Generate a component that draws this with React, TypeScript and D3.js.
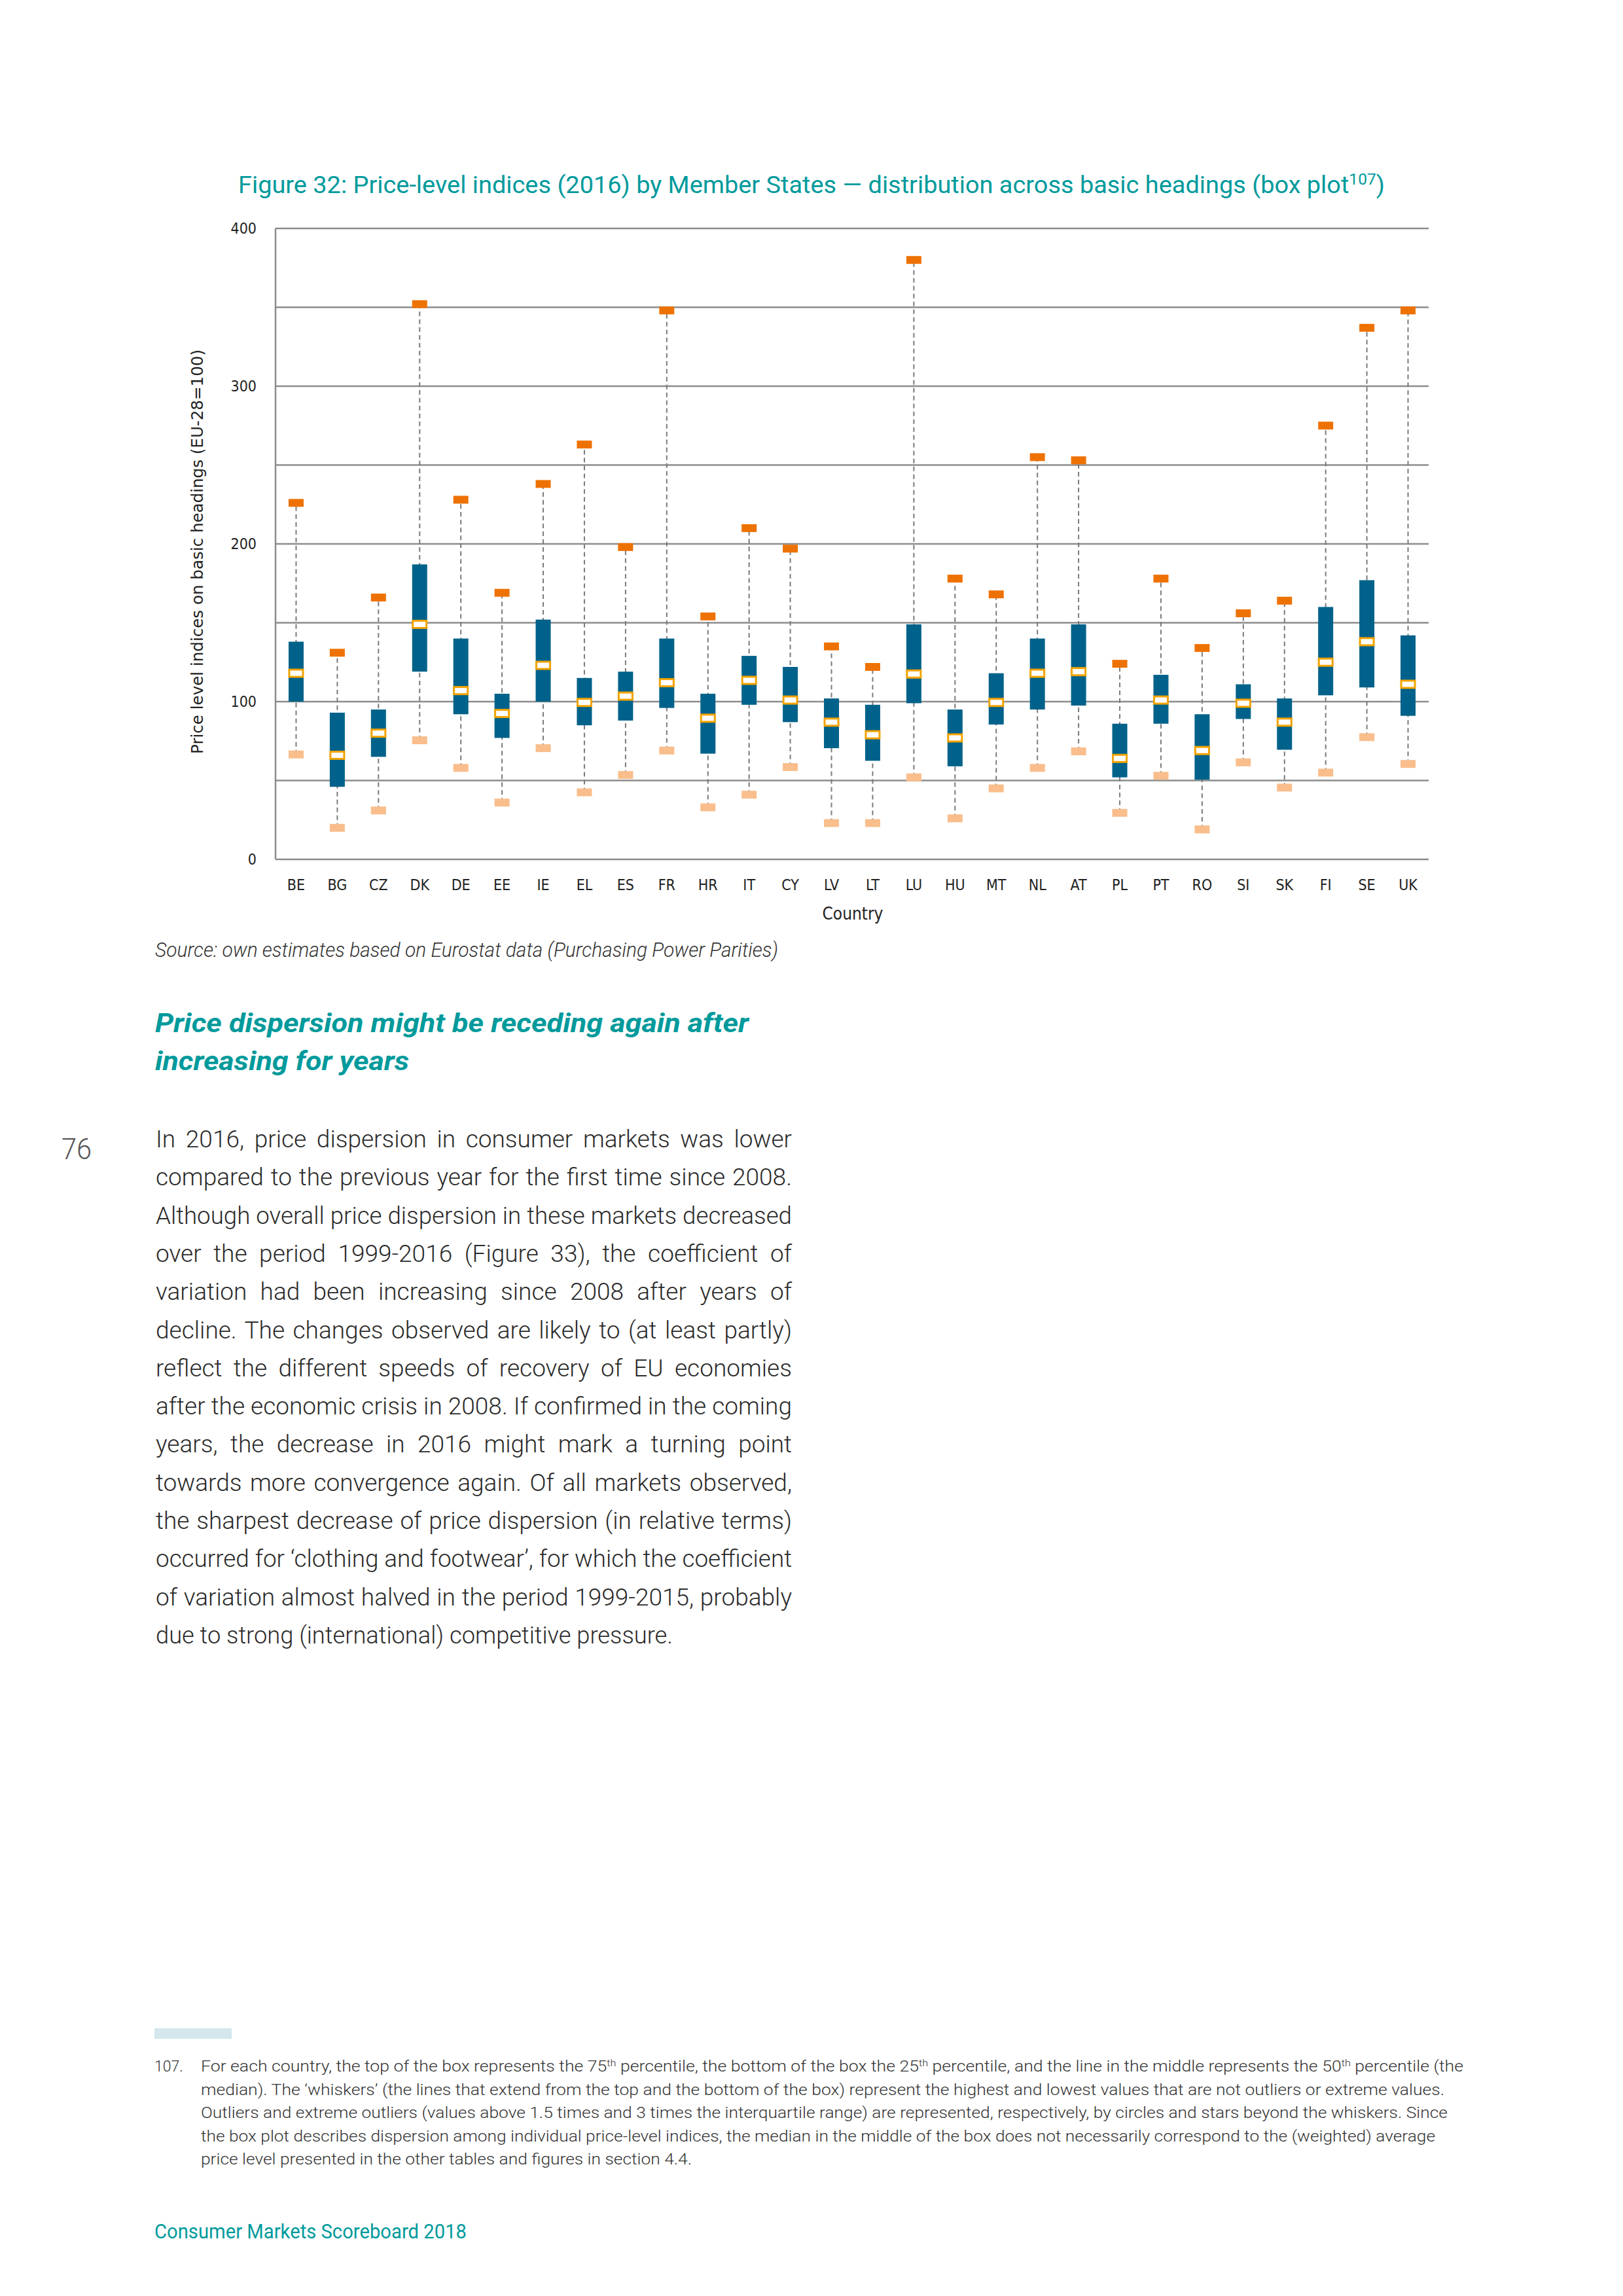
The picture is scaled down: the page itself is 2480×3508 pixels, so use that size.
import * as d3 from "d3";
import { useLayoutEffect, useRef } from "react";

// values (price level index, EU-28 = 100)
const countries = ["BE", "BG", "CZ", "DK", "DE", "EE", "IE", "EL", "ES", "FR", "HR", "IT", "CY", "LV", "LT", "LU", "HU", "MT", "NL", "AT", "PL", "PT", "RO", "SI", "SK", "FI", "SE", "UK"];
const maxValues = [226, 131, 166, 352, 228, 169, 238, 263, 198, 348, 154, 210, 197, 135, 122, 380, 178, 168, 255, 253, 124, 178, 134, 156, 164, 275, 337, 348];
const q3Values = [138, 93, 95, 187, 140, 105, 152, 115, 119, 140, 105, 129, 122, 102, 98, 149, 95, 118, 140, 149, 86, 117, 92, 111, 102, 160, 177, 142];
const medianValues = [118, 66, 80, 149, 107, 92.5, 123, 99.5, 103.5, 112, 89.5, 113.5, 101, 87, 79, 117.5, 77, 99.5, 118, 119, 64, 101, 69, 99, 87, 125, 138, 111];
const q1Values = [100, 46, 65, 119, 92, 77, 100, 85, 88, 96, 67, 98, 87, 70.5, 62.5, 99, 59, 85.5, 95, 97.5, 52, 86, 50.5, 89, 69.5, 104, 109, 91];
const minValues = [66.5, 20, 31, 75.5, 58, 36, 70.5, 42.5, 53.5, 69, 33, 41, 58.5, 23, 23, 52, 26, 45, 58, 68.5, 29.5, 53, 19, 61.5, 45.5, 55, 77.5, 60.5];
const yTicks = [0, 100, 200, 300, 400];
const gridValues = [0, 50, 100, 150, 200, 250, 300, 350, 400];

const paragraph = [
  "In 2016, price dispersion in consumer markets was lower",
  "compared to the previous year for the first time since 2008.",
  "Although overall price dispersion in these markets decreased",
  "over the period 1999-2016 (Figure 33), the coefficient of",
  "variation had been increasing since 2008 after years of",
  "decline. The changes observed are likely to (at least partly)",
  "reflect the different speeds of recovery of EU economies",
  "after the economic crisis in 2008. If confirmed in the coming",
  "years, the decrease in 2016 might mark a turning point",
  "towards more convergence again. Of all markets observed,",
  "the sharpest decrease of price dispersion (in relative terms)",
  "occurred for \u2018clothing and footwear\u2019, for which the coefficient",
  "of variation almost halved in the period 1999-2015, probably",
  "due to strong (international) competitive pressure.",
];

const footnoteLines = [
  "median). The \u2018whiskers\u2019 (the lines that extend from the top and the bottom of the box) represent the highest and lowest values that are not outliers or extreme values.",
  "Outliers and extreme outliers (values above 1.5 times and 3 times the interquartile range) are represented, respectively, by circles and stars beyond the whiskers. Since",
  "the box plot describes dispersion among individual price-level indices, the median in the middle of the box does not necessarily correspond to the (weighted) average",
  "price level presented in the other tables and figures in section 4.4.",
];
const footnoteWidths = [1929, 1900, 1905, 1886, 750];

const COND = "'Liberation Sans Narrow', 'DejaVu Sans Condensed', 'Roboto Condensed', Roboto, 'Open Sans', sans-serif";
const LIGHT = "Roboto, 'Open Sans', sans-serif";
const TEAL = "#009A9C";

// squeeze (or justify) a text line to the width it has in the page
// @ts-expect-error
function FitText({ x, y, width, justify = false, children, ...rest }) {
  const ref = useRef<SVGTextElement>(null);
  useLayoutEffect(() => {
    const el = ref.current;
    if (!el) return;
    const len = el.getComputedTextLength();
    const spaces = ((el.textContent || "").match(/ /g) || []).length;
    if (justify && len < width && spaces > 0) {
      el.style.wordSpacing = `${(width - len) / spaces}px`;
    } else {
      el.setAttribute("textLength", String(width));
      el.setAttribute("lengthAdjust", "spacingAndGlyphs");
    }
  }, [width, justify]);
  return (
    <text ref={ref} x={x} y={y} {...rest}>
      {children}
    </text>
  );
}

export default function App() {
  const left = 421;
  const right = 2183;
  const top = 349;
  const bottom = 1313;

  const x = d3.scaleBand().domain(countries).range([left, right]);
  const y = d3.scaleLinear().domain([0, 400]).range([bottom, top]);
  const cx = (c: string) => (x(c) as number) + x.bandwidth() / 2;

  const boxW = 23;
  const capH = 12;

  return (
    <svg
      width={2480}
      height={3508}
      viewBox="0 0 2480 3508"
      style={{ position: "absolute", left: 0, top: 0, background: "white" }}
    >
      <rect x={0} y={0} width={2480} height={3508} fill="white" />

      {/* title */}
      <FitText x={364} y={295} width={1752} fontSize={37} fill={TEAL} fontFamily={LIGHT}>
        {"Figure 32: Price-level indices (2016) by Member States \u2014 distribution across basic headings (box plot"}
        <tspan dy={-13} fontSize={24}>107</tspan>
        <tspan dy={13}>)</tspan>
      </FitText>

      {/* grid */}
      {gridValues.map((v) => (
        <line key={v} x1={left} x2={right} y1={y(v)} y2={y(v)} stroke="#8c8c8c" strokeWidth={2.5} />
      ))}
      <line x1={left} x2={left} y1={top} y2={bottom} stroke="#8c8c8c" strokeWidth={2.5} />

      {yTicks.map((v) => (
        <text key={v} x={392} y={y(v) + 8} fontSize={23} fill="#222" textAnchor="end" fontFamily={COND}>
          {v}
        </text>
      ))}

      <FitText
        x={310}
        y={1152}
        width={618}
        transform="rotate(-90, 310, 1152)"
        fontSize={24}
        fill="#222"
        fontFamily="'DejaVu Sans', Verdana, sans-serif"
      >
        {"Price level indices on basic headings (EU-28=100)"}
      </FitText>

      {/* whiskers */}
      {countries.map((c, i) => (
        <line
          key={"w" + c}
          x1={cx(c)}
          x2={cx(c)}
          y1={y(minValues[i])}
          y2={y(maxValues[i])}
          stroke="#7a7a7a"
          strokeWidth={2}
          strokeDasharray="7 5"
        />
      ))}
      {/* boxes */}
      {countries.map((c, i) => (
        <rect
          key={"b" + c}
          x={cx(c) - boxW / 2}
          y={y(q3Values[i])}
          width={boxW}
          height={y(q1Values[i]) - y(q3Values[i])}
          fill="#00628A"
        />
      ))}
      {/* medians */}
      {countries.map((c, i) => (
        <rect
          key={"m" + c}
          x={cx(c) - 10.5}
          y={y(medianValues[i]) - 5.5}
          width={21}
          height={11}
          fill="white"
          stroke="#F4A300"
          strokeWidth={3}
        />
      ))}
      {/* max and min markers */}
      {countries.map((c, i) => (
        <rect
          key={"hi" + c}
          x={cx(c) - boxW / 2}
          y={y(maxValues[i]) - capH / 2}
          width={boxW}
          height={capH}
          fill="#EE7203"
        />
      ))}
      {countries.map((c, i) => (
        <rect
          key={"lo" + c}
          x={cx(c) - boxW / 2}
          y={y(minValues[i]) - capH / 2}
          width={boxW}
          height={capH}
          fill="#F9BE8C"
        />
      ))}

      {countries.map((c) => (
        <text key={"l" + c} x={cx(c)} y={1360} fontSize={23} fill="#222" textAnchor="middle" fontFamily={COND}>
          {c}
        </text>
      ))}
      <text x={1303} y={1405} fontSize={26} fill="#222" textAnchor="middle" fontFamily={COND}>
        Country
      </text>

      <FitText x={237} y={1462} width={952} fontSize={31} fill="#333" fontStyle="italic" fontWeight={300} fontFamily={LIGHT}>
        {"Source: own estimates based on Eurostat data (Purchasing Power Parities)"}
      </FitText>

      <FitText x={237} y={1577} width={907} fontSize={41} fill={TEAL} fontStyle="italic" fontWeight={700} fontFamily={LIGHT}>
        {"Price dispersion might be receding again after"}
      </FitText>
      <FitText x={237} y={1635} width={388} fontSize={41} fill={TEAL} fontStyle="italic" fontWeight={700} fontFamily={LIGHT}>
        {"increasing for years"}
      </FitText>

      <FitText x={94} y={1771} width={46} fontSize={44} fill="#555" fontWeight={300} fontFamily={LIGHT}>
        76
      </FitText>

      {paragraph.map((line, i) => (
        <FitText
          key={"p" + i}
          x={238}
          y={1753 + i * 58.3}
          width={i === paragraph.length - 1 ? 790 : 972}
          justify={i !== paragraph.length - 1}
          fontSize={37}
          fill="#2a2a2a"
          fontWeight={300}
          fontFamily={LIGHT}
        >
          {line}
        </FitText>
      ))}

      {/* footnote */}
      <rect x={236} y={3099} width={118} height={16} fill="#D3E7EC" />
      <text x={236} y={3165} fontSize={23} fill="#333" fontWeight={300} fontFamily={LIGHT}>
        107.
      </text>
      <FitText x={307} y={3165} width={footnoteWidths[0]} fontSize={23} fill="#333" fontWeight={300} fontFamily={LIGHT}>
        {"For each country, the top of the box represents the 75"}
        <tspan dy={-8} fontSize={14}>th</tspan>
        <tspan dy={8}>{" percentile, the bottom of the box the 25"}</tspan>
        <tspan dy={-8} fontSize={14}>th</tspan>
        <tspan dy={8}>{" percentile, and the line in the middle represents the 50"}</tspan>
        <tspan dy={-8} fontSize={14}>th</tspan>
        <tspan dy={8}>{" percentile (the"}</tspan>
      </FitText>
      {footnoteLines.map((line, i) => (
        <FitText
          key={"f" + i}
          x={307}
          y={3165 + (i + 1) * 35.5}
          width={footnoteWidths[i + 1]}
          fontSize={23}
          fill="#333"
          fontWeight={300}
          fontFamily={LIGHT}
        >
          {line}
        </FitText>
      ))}

      <FitText x={236} y={3420} width={477} fontSize={31} fill={TEAL} fontFamily={LIGHT}>
        Consumer Markets Scoreboard 2018
      </FitText>
    </svg>
  );
}
